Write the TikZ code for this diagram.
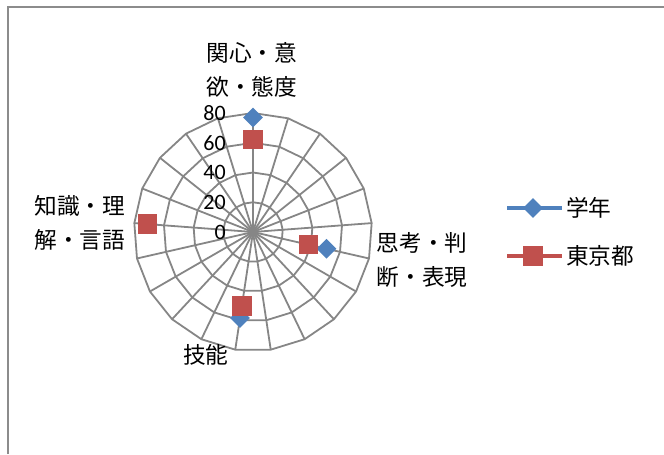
\documentclass[tikz,border=0pt]{standalone}
\usepackage{fontspec}
\setmainfont{Carlito}
\newfontfamily\jpfont{Noto Sans CJK JP}
\usetikzlibrary{positioning,shapes.geometric}
\definecolor{grid-gray}{HTML}{868686}
\definecolor{frame-gray}{HTML}{8C8C8C}
\definecolor{gaku-blue}{HTML}{4F81BD}
\definecolor{tokyo-red}{HTML}{C0504D}
\newcommand{\rdunit}{1.4875}
\newcommand{\rdstep}{17.142857}
\tikzstyle{gridline}=[draw=grid-gray,line width=1.35pt]
\tikzstyle{gakustyle}=[shape=diamond,fill=gaku-blue,inner sep=0pt,minimum size=15pt]
\tikzstyle{tokyostyle}=[shape=rectangle,fill=tokyo-red,inner sep=0pt,minimum size=14.5pt]
\tikzstyle{axlabelstyle}=[font=\jpfont\fontsize{17}{25}\selectfont,align=center,inner sep=0pt]
\tikzstyle{ticklabelstyle}=[font=\fontsize{16.5}{20}\selectfont,anchor=east,inner sep=0pt]
\tikzstyle{legtextstyle}=[font=\jpfont\fontsize{17}{20}\selectfont,anchor=west,inner sep=0pt]
\newcommand{\rdring}[1]{ \draw[gridline] (90:{#1*\rdunit}) \foreach \k in {1,...,20} { -- ({90-\k*\rdstep}:{#1*\rdunit}) } -- cycle; }
\newcommand{\rdspoke}[1]{ \draw[gridline] (center) -- ({90-#1*\rdstep}:{80*\rdunit}); }
\newcommand{\rdtick}[2]{ \node[ticklabelstyle] (#1) at (-27,{#2*\rdunit}) {#2}; }
\newcommand{\rdpoint}[4]{ \node[style=#4] (#1) at ({90-#2*\rdstep}:{#3*\rdunit}) {}; }
\newcommand{\legentry}[5]{ \coordinate (#1L) at (254,#2); \coordinate (#1R) at (309,#2); \draw[draw=#3,line width=3pt] (#1L) -- (#1R); \node[style=#4] (#1Mk) at (280,#2) {}; \node[legtextstyle] (#1Txt) at (313,#2) {#5}; }

\begin{document}
\begin{tikzpicture}[x=0.75pt,y=0.75pt]
\useasboundingbox (-253,-222) rectangle (411,232);
\draw[draw=frame-gray,line width=1.6pt] (-245,-222) -- (-245,225) -- (411,225); %
\coordinate (center) at (0,0);
\rdring{20} %
\rdring{40} %
\rdring{60} %
\rdring{80} %
\foreach \k in {0,...,20} { \rdspoke{\k} } %
\rdtick{tick0}{0} %
\rdtick{tick20}{20} %
\rdtick{tick40}{40} %
\rdtick{tick60}{60} %
\rdtick{tick80}{80} %
\node[axlabelstyle] (axKanshin) at (-1,162) {関心・意\\欲・態度}; %
\node[axlabelstyle] (axShiko) at (169,-28) {思考・判\\断・表現}; %
\node[axlabelstyle] (axGino) at (-47,-123) {技能}; %
\node[axlabelstyle] (axChishiki) at (-173,9) {知識・理\\解・言語}; %
\rdpoint{gakuKanshin}{0}{77}{gakustyle} %
\rdpoint{gakuShiko}{6}{50.7}{gakustyle} %
\rdpoint{gakuGino}{11}{58.5}{gakustyle} %
\rdpoint{gakuChishiki}{16}{71}{gakustyle} %
\rdpoint{tokyoKanshin}{0}{62.3}{tokyostyle} %
\rdpoint{tokyoShiko}{6}{38.5}{tokyostyle} %
\rdpoint{tokyoGino}{11}{50.3}{tokyostyle} %
\rdpoint{tokyoChishiki}{16}{71}{tokyostyle} %
\legentry{legGaku}{24}{gaku-blue}{gakustyle}{学年} %
\legentry{legTokyo}{-24}{tokyo-red}{tokyostyle}{東京都} %
\end{tikzpicture}
\end{document}
